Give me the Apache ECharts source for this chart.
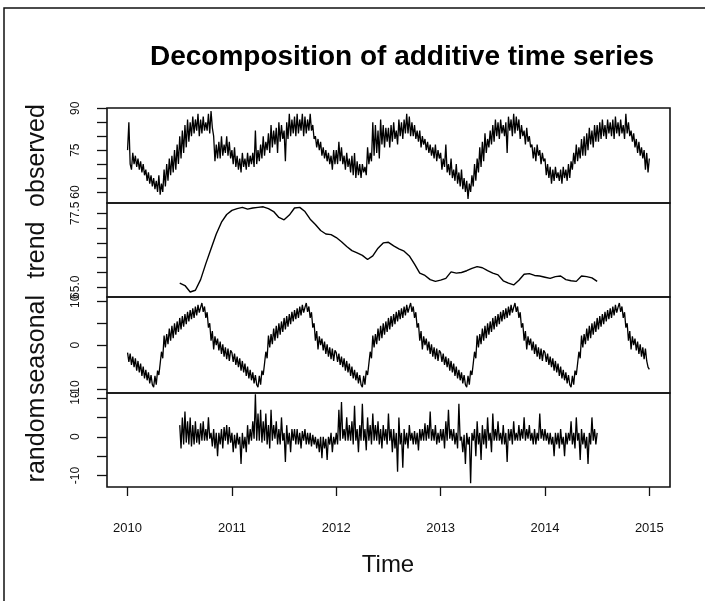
<!DOCTYPE html>
<html>
<head>
<meta charset="utf-8">
<script src="https://cdn.jsdelivr.net/npm/echarts@6/dist/echarts.min.js"></script>
<style>html,body{margin:0;padding:0;background:#fff}#c{width:705px;height:601px}</style>
</head>
<body>
<div id="c"></div>
<script>
const obsStart = 2010.0;
const obsFreq = 80;
const observed = [
  75,85,70,68,74,70,73,69,72,68,
  71,67,70,66,68,64,67,63,66,62,
  65,61,64,60,66,59,63,60,68,62,
  70,64,72,66,73,67,75,68,77,70,
  80,72,82,74,84,76,86,78,85,80,
  87,81,86,82,88,80,86,81,87,82,
  85,82,88,81,89,83,80,71,77,72,
  78,72,80,73,77,74,80,73,78,72,
  75,70,76,69,73,68,72,67,74,69,
  72,68,74,69,73,70,74,69,82,70,
  75,71,77,72,80,73,78,75,81,74,
  84,76,82,77,83,74,85,78,84,79,
  82,71,85,79,88,80,86,81,87,80,
  88,81,86,82,88,80,87,81,86,82,
  88,82,84,79,80,76,79,75,78,73,
  76,72,75,71,74,70,73,68,75,70,
  75,70,78,71,76,70,73,68,74,69,
  72,67,73,66,74,65,71,66,70,65,
  70,67,69,66,76,70,74,71,85,73,
  84,74,82,72,86,77,84,76,83,78,
  83,76,84,78,85,79,82,77,86,80,
  85,79,86,81,88,81,87,80,85,80,
  84,79,82,78,82,76,80,77,79,75,
  78,74,77,73,76,72,77,71,75,72,
  74,68,72,69,77,67,70,66,72,65,
  68,64,70,63,67,62,68,61,65,60,
  64,57.5,63,60,66,62,70,64,72,67,
  76,69,78,71,81,74,79,76,82,77,
  84,78,86,80,85,79,86,81,84,80,
  85,74,87,82,86,80,88,81,87,82,
  86,79,84,80,82,77,83,78,80,76,
  77,72,76,71,77,73,75,70,74,71,
  72,66,70,65,69,63,68,64,69,65,
  67,64,68,63,69,65,68,64,70,65,
  71,68,74,70,77,71,76,72,79,73,
  80,73,81,75,83,77,82,76,84,78,
  84,78,85,79,86,80,84,79,86,81,
  85,80,86,79,87,81,85,80,86,81,
  84,79,88,81,85,80,82,78,81,76,
  79,74,78,73,76,72,75,68,74,67,
  72
];
const trendStart = 2010.5;
const trendFreq = 20;
const trend = [
  65.7,65.3,64.2,64.5,66.3,69.0,71.5,74.0,76.0,77.3,
  78.0,78.3,78.5,78.2,78.4,78.5,78.6,78.3,77.8,76.8,
  76.4,77.2,78.4,78.5,77.8,76.5,75.6,74.6,74.0,73.9,
  73.4,72.7,71.9,71.2,70.8,70.4,69.7,70.3,71.6,72.5,
  72.6,72.0,71.5,71.1,70.3,68.9,67.4,67.0,66.3,66.0,
  66.2,66.5,67.6,67.4,67.5,67.8,68.2,68.5,68.3,67.8,
  67.4,67.1,66.1,65.7,65.4,66.2,67.2,67.3,67.0,66.9,
  66.7,66.5,66.8,66.9,66.3,66.1,66.0,66.9,66.8,66.6,
  66.0
];
const seasonalStart = 2010.0;
const seasonalFreq = 80;
const seasonal = [
  // 2010
  -1.7,-3.8,-1.9,-4.5,-2.6,-5.0,-3.0,-5.8,-3.6,-6.2,
  -4.2,-7.0,-4.9,-7.6,-5.6,-8.0,-6.2,-8.7,-6.8,-9.0,
  -9.6,-7.0,-9.0,-5.8,-6.8,-4.2,-1.5,-3.0,2.2,-0.5,
  2.5,0.2,3.8,1.0,4.4,1.6,5.0,2.4,5.4,3.0,
  6.2,3.6,6.6,4.2,7.1,4.8,7.6,5.4,8.0,5.9,
  8.4,6.2,8.8,6.8,9.2,7.4,8.6,9.6,7.6,8.8,
  6.2,7.5,4.0,5.0,1.0,3.2,-1.0,2.0,0.0,1.5,
  -1.2,0.8,-2.0,0.2,-2.6,-0.5,-3.2,-0.8,-3.6,-1.2,
  // 2011
  -1.7,-3.8,-1.9,-4.5,-2.6,-5.0,-3.0,-5.8,-3.6,-6.2,
  -4.2,-7.0,-4.9,-7.6,-5.6,-8.0,-6.2,-8.7,-6.8,-9.0,
  -9.6,-7.0,-9.0,-5.8,-6.8,-4.2,-1.5,-3.0,2.2,-0.5,
  2.5,0.2,3.8,1.0,4.4,1.6,5.0,2.4,5.4,3.0,
  6.2,3.6,6.6,4.2,7.1,4.8,7.6,5.4,8.0,5.9,
  8.4,6.2,8.8,6.8,9.2,7.4,8.6,9.6,7.6,8.8,
  6.2,7.5,4.0,5.0,1.0,3.2,-1.0,2.0,0.0,1.5,
  -1.2,0.8,-2.0,0.2,-2.6,-0.5,-3.2,-0.8,-3.6,-1.2,
  // 2012
  -1.7,-3.8,-1.9,-4.5,-2.6,-5.0,-3.0,-5.8,-3.6,-6.2,
  -4.2,-7.0,-4.9,-7.6,-5.6,-8.0,-6.2,-8.7,-6.8,-9.0,
  -9.6,-7.0,-9.0,-5.8,-6.8,-4.2,-1.5,-3.0,2.2,-0.5,
  2.5,0.2,3.8,1.0,4.4,1.6,5.0,2.4,5.4,3.0,
  6.2,3.6,6.6,4.2,7.1,4.8,7.6,5.4,8.0,5.9,
  8.4,6.2,8.8,6.8,9.2,7.4,8.6,9.6,7.6,8.8,
  6.2,7.5,4.0,5.0,1.0,3.2,-1.0,2.0,0.0,1.5,
  -1.2,0.8,-2.0,0.2,-2.6,-0.5,-3.2,-0.8,-3.6,-1.2,
  // 2013
  -1.7,-3.8,-1.9,-4.5,-2.6,-5.0,-3.0,-5.8,-3.6,-6.2,
  -4.2,-7.0,-4.9,-7.6,-5.6,-8.0,-6.2,-8.7,-6.8,-9.0,
  -9.6,-7.0,-9.0,-5.8,-6.8,-4.2,-1.5,-3.0,2.2,-0.5,
  2.5,0.2,3.8,1.0,4.4,1.6,5.0,2.4,5.4,3.0,
  6.2,3.6,6.6,4.2,7.1,4.8,7.6,5.4,8.0,5.9,
  8.4,6.2,8.8,6.8,9.2,7.4,8.6,9.6,7.6,8.8,
  6.2,7.5,4.0,5.0,1.0,3.2,-1.0,2.0,0.0,1.5,
  -1.2,0.8,-2.0,0.2,-2.6,-0.5,-3.2,-0.8,-3.6,-1.2,
  // 2014
  -1.7,-3.8,-1.9,-4.5,-2.6,-5.0,-3.0,-5.8,-3.6,-6.2,
  -4.2,-7.0,-4.9,-7.6,-5.6,-8.0,-6.2,-8.7,-6.8,-9.0,
  -9.6,-7.0,-9.0,-5.8,-6.8,-4.2,-1.5,-3.0,2.2,-0.5,
  2.5,0.2,3.8,1.0,4.4,1.6,5.0,2.4,5.4,3.0,
  6.2,3.6,6.6,4.2,7.1,4.8,7.6,5.4,8.0,5.9,
  8.4,6.2,8.8,6.8,9.2,7.4,8.6,9.6,7.6,8.8,
  6.2,7.5,4.0,5.0,1.0,3.2,-1.0,2.0,0.0,1.5,
  -1.2,0.8,-2.0,0.2,-2.6,-0.5,-3.2,-0.8,-3.6,-5.0,
  -5.5
];
const randomStart = 2010.5;
const randomFreq = 80;
const random = [
  3,-3,5,-2,6.5,-1.5,4,-2,5,-2.5,
  3,-2,4,-1.5,2,-2,3.5,-1,4,-1,
  2,-1,5,-0.5,1,-2.5,2,-3,1,-5,
  1,-2,2,-3,2.5,-1,3,-2,2.5,-1.5,
  1,-4,0.5,-3,1,-2,0,-7,1,-3,
  0,-4,3,-2,2,-1,4,-0.5,11,-1,
  6,-1,7,-1.5,4,-1,6,-2,3,-3,
  7,-1,3,-0.5,4,-2,2,-2,5,-1,
  1,-6.5,3,-2,1,-4,2,-1,2,-2,
  2,-2,1,-3,1.5,-1,2,-2,1,-2,
  1,-2.5,0.5,-2,0,-3,-0.5,-4,0,-5.5,
  0,-3,-0.5,-6,0,-2,1,-4,0,-2,
  1,-2,7,-1,9,-0.5,2,-1,5,-1,
  3,-1,4,-2,8,-1,2,-4,3,-1,
  8.5,-1,2,-3.5,5,-1,3,-2,6,-1,
  3,-1,4,-2,2,-3,3,-1,2,-2,
  6,-1,2,-4,2,-3,1,-9,5,-2,
  1,-8,2,-2,1,-3,3,-1,1,-2,
  1.5,-2,1,-3.5,2,-1,2,-1,3.5,-1,
  3,-0.5,6.5,-1,2,-1,3,-2,1,-1.5,
  2,-1,2,-3,4,-1,7,-0.5,2,-1,
  2,-2,1,-3,8.5,-1,0,-4,0.5,-7,
  1,-2,0,-12,1,-1,2,-5,4,-2,
  1,-6,3,-2,2,-3,5,-1,1,-4,
  6,-1,2,-1,4,-1,1,-2,3,-2,
  1,-6.5,2,-1,2,-2,4,-1,1,-1,
  3,-1,2,-0.5,5,-1,2,-0.5,3,-1,
  1,-2,2,-2,1,-1,6,-0.5,2,-1,
  2,-1,1,-2,1,-2,0,-5,1,-2,
  1,-3,2,-2,0,-5,1,-2,1,-1,
  4,-2,1,-3,5,-1,1,-6,2,-2,
  1,-3,0,-7,1,-2,5,-1,2,-2,
  1
];
// tick values
const xTicks = [2010, 2011, 2012, 2013, 2014, 2015];
const obsTicks = [60, 65, 70, 75, 80, 85, 90], obsLabels = [60, 75, 90];
const trendTicks = [65, 67.5, 70, 72.5, 75, 77.5], trendLabels = [65, 77.5];
const seasTicks = [-10, -5, 0, 5, 10], seasLabels = [-10, 0, 10];
const randTicks = [-10, -5, 0, 5, 10], randLabels = [-10, 0, 10];
const panelNames = ['observed', 'trend', 'seasonal', 'random'];

// ---- build ----
const toPairs = (arr, start, freq) => arr.map((v, i) => [start + i / freq, v]);
const FONT = '"Liberation Sans", Arial, Helvetica, sans-serif';
const L = 107, R = 670;
const tops = [108, 203, 297, 393], heights = [95, 94, 96, 94];
const yRanges = [[56.05, 90.1], [63.36, 79.24], [-10.9, 10.97], [-12.96, 11.3]];
const tickSets = [obsTicks, trendTicks, seasTicks, randTicks];
const labelSets = [obsLabels, trendLabels, seasLabels, randLabels];
const XMIN = 2009.803, XMAX = 2015.198;

const grids = tops.map((t, i) => ({
  left: L, width: R - L, top: t, height: heights[i],
  show: true, borderColor: '#111', borderWidth: 1.6, backgroundColor: 'transparent',
  outerBoundsMode: 'none', containLabel: false
}));
const xAxes = tops.map((t, i) => {
  const last = i === 3;
  return {
    type: 'value', gridIndex: i, min: XMIN, max: XMAX, position: 'bottom',
    axisLine: { show: false, onZero: false }, splitLine: { show: false },
    axisTick: { show: last, customValues: xTicks, length: 9, lineStyle: { color: '#111', width: 1.3 } },
    axisLabel: { show: last, customValues: xTicks, margin: 35, fontSize: 13, color: '#111', fontFamily: FONT,
      formatter: v => String(Math.round(v)) }
  };
});
const yAxes = tops.map((t, i) => ({
  type: 'value', gridIndex: i, min: yRanges[i][0], max: yRanges[i][1], position: 'left',
  axisLine: { show: false, onZero: false }, splitLine: { show: false },
  axisTick: { show: true, customValues: tickSets[i], length: 10, lineStyle: { color: '#111', width: 1.3 } },
  axisLabel: {
    show: true, customValues: labelSets[i], rotate: 90, margin: 25, fontSize: 12, color: '#111', fontFamily: FONT,
    formatter: i === 1 ? (v => Number(v).toFixed(1)) : (v => String(v))
  }
}));
const mk = (data, idx, w) => ({
  type: 'line', xAxisIndex: idx, yAxisIndex: idx, data, showSymbol: false, symbol: 'none',
  lineStyle: { color: '#000', width: w }, animation: false, silent: true
});
const series = [
  mk(toPairs(observed, obsStart, obsFreq), 0, 1.3),
  mk(toPairs(trend, trendStart, trendFreq), 1, 1.4),
  mk(toPairs(seasonal, seasonalStart, seasonalFreq), 2, 1.3),
  mk(toPairs(random, randomStart, randomFreq), 3, 1.3)
];
const graphic = [
  { type: 'rect', shape: { x: 4, y: 8, width: 900, height: 800 }, style: { fill: 'none', stroke: '#111', lineWidth: 1.5 }, silent: true },
  { type: 'text', x: 402, y: 57, style: { text: 'Decomposition of additive time series', font: 'bold 28px ' + FONT, fill: '#000', textAlign: 'center', textVerticalAlign: 'middle' } },
  { type: 'text', x: 388, y: 565, style: { text: 'Time', font: '24px ' + FONT, fill: '#111', textAlign: 'center', textVerticalAlign: 'middle' } }
];
tops.forEach((t, i) => {
  graphic.push({ type: 'text', x: 37, y: t + heights[i] / 2, rotation: Math.PI / 2,
    style: { text: panelNames[i], font: '25px ' + FONT, fill: '#111', textAlign: 'center', textVerticalAlign: 'middle' } });
});

const chart = echarts.init(document.getElementById('c'), null, { renderer: 'canvas' });
chart.setOption({
  animation: false, backgroundColor: '#fff',
  grid: grids, xAxis: xAxes, yAxis: yAxes, series, graphic
});
</script>
</body>
</html>
